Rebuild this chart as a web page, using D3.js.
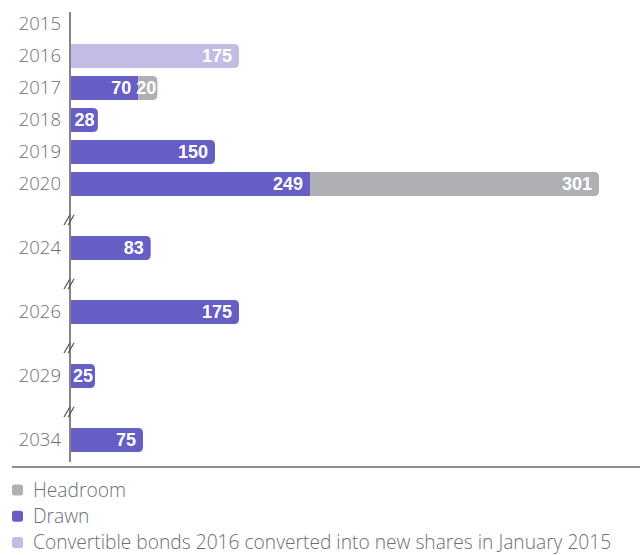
<!DOCTYPE html>
<html>
<head>
<meta charset="utf-8">
<script src="https://cdn.jsdelivr.net/npm/d3@7"></script>
<style>
  body { margin: 0; background: #fff; }
  svg { display: block; }
</style>
</head>
<body>
<svg id="chart"></svg>
<script>
// data
const years = ["2015", "2016", "2017", "2018", "2019", "2020", "2024", "2026", "2029", "2034"];
const drawn = [0, 0, 70, 28, 150, 249, 83, 175, 25, 75];
const headroom = [0, 0, 20, 0, 0, 301, 0, 0, 0, 0];
const convertible = [0, 175, 0, 0, 0, 0, 0, 0, 0, 0];
const breaksBefore = ["2024", "2026", "2029", "2034"];

const legendItems = ["Headroom", "Drawn", "Convertible bonds 2016 converted into new shares in January 2015"];
const colors = { headroom: "#aeb0b4", drawn: "#665dc5", convertible: "#c3bde6" };
const legendColors = [colors.headroom, colors.drawn, colors.convertible];

const width = 640;
const height = 555;
const lightFont = "'Open Sans', 'Liberation Sans', sans-serif";
const boldFont = "'Liberation Sans', Arial, sans-serif";
const textColor = "#6b7078";

const svg = d3.select("#chart").attr("width", width).attr("height", height);

// slots: each year plus one empty slot for every axis break
const slots = [];
years.forEach(function (y) {
    if (breaksBefore.indexOf(y) >= 0) slots.push("gap-" + y);
    slots.push(y);
});

const y = d3.scalePoint().domain(slots).range([24, 440]);
const x = d3.scaleLinear().domain([0, 550]).range([71, 599]);
const barH = 24;
const r = 5;

// bar path, square on the left, rounded on the right when asked
function barPath(x0, x1, yc, round) {
    const t = yc - barH / 2, b = yc + barH / 2;
    const rr = round ? Math.min(r, (x1 - x0) / 2) : 0;
    return "M" + x0 + "," + t +
        " H" + (x1 - rr) +
        (rr ? " Q" + x1 + "," + t + " " + x1 + "," + (t + rr) : "") +
        " V" + (b - rr) +
        (rr ? " Q" + x1 + "," + b + " " + (x1 - rr) + "," + b : " H" + x1) +
        " H" + x0 + " Z";
}

const rows = years.map(function (yr, i) {
    return { year: yr, drawn: drawn[i], headroom: headroom[i], convertible: convertible[i] };
});

const bars = svg.append("g").attr("class", "bars");

rows.forEach(function (d) {
    const yc = y(d.year);
    if (d.convertible > 0) {
        bars.append("path").attr("d", barPath(x(0), x(d.convertible), yc, true)).attr("fill", colors.convertible);
    }
    if (d.drawn > 0) {
        bars.append("path").attr("d", barPath(x(0), x(d.drawn), yc, d.headroom === 0)).attr("fill", colors.drawn);
    }
    if (d.headroom > 0) {
        bars.append("path").attr("d", barPath(x(d.drawn), x(d.drawn + d.headroom), yc, true)).attr("fill", colors.headroom);
    }
});

// value labels
const labels = svg.append("g").attr("class", "values")
    .style("font-family", boldFont)
    .style("font-size", "18px")
    .style("font-weight", "bold")
    .attr("fill", "#fff");

function valueLabel(v, x0, x1, yc) {
    const t = labels.append("text")
        .attr("y", yc)
        .attr("dy", "0.36em")
        .attr("text-anchor", "end")
        .text(v);
    const w = t.node().getComputedTextLength();
    const pad = Math.max(1, Math.min(7, (x1 - x0 - w) / 2));
    t.attr("x", x1 - pad);
}

rows.forEach(function (d) {
    const yc = y(d.year);
    if (d.convertible > 0) valueLabel(d.convertible, x(0), x(d.convertible), yc);
    if (d.drawn > 0) valueLabel(d.drawn, x(0), x(d.drawn), yc);
    if (d.headroom > 0) valueLabel(d.headroom, x(d.drawn), x(d.drawn + d.headroom), yc);
});

// year labels
svg.append("g").attr("class", "years")
    .selectAll("text")
    .data(years)
    .enter()
    .append("text")
    .attr("x", 61)
    .attr("y", function (d) { return y(d) - 1; })
    .attr("dy", "0.36em")
    .attr("text-anchor", "end")
    .attr("fill", textColor)
    .style("font-family", lightFont)
    .style("font-weight", 300)
    .style("font-size", "18.5px")
    .text(function (d) { return d; });

// vertical axis line
svg.append("line")
    .attr("x1", 70).attr("x2", 70)
    .attr("y1", 12).attr("y2", 462)
    .attr("stroke", "#575d66")
    .attr("stroke-width", 1.5);

// axis break marks
const brk = svg.append("g").attr("class", "breaks")
    .selectAll("g")
    .data(breaksBefore)
    .enter()
    .append("g")
    .attr("transform", function (d) { return "translate(70," + (y("gap-" + d) + 4) + ")"; });

[-2, 2].forEach(function (off) {
    brk.append("line")
        .attr("x1", off - 4).attr("y1", 5)
        .attr("x2", off + 2).attr("y2", -5)
        .attr("stroke", "#4a5058")
        .attr("stroke-width", 1.2);
});

// bottom rule
svg.append("line")
    .attr("x1", 12).attr("x2", 640)
    .attr("y1", 467).attr("y2", 467)
    .attr("stroke", "#8a8e92")
    .attr("stroke-width", 2);

// legend
const legend = svg.append("g").attr("class", "legend")
    .selectAll("g")
    .data(legendItems)
    .enter()
    .append("g")
    .attr("transform", function (d, i) { return "translate(0," + (490 + i * 26.2) + ")"; });

legend.append("rect")
    .attr("x", 12).attr("y", -5.5)
    .attr("width", 11).attr("height", 11)
    .attr("rx", 2.5)
    .attr("fill", function (d, i) { return legendColors[i]; });

legend.append("text")
    .attr("x", 33)
    .attr("dy", "0.34em")
    .attr("fill", textColor)
    .style("font-family", lightFont)
    .style("font-weight", 300)
    .style("font-size", "19.2px")
    .text(function (d) { return d; });
</script>
</body>
</html>
